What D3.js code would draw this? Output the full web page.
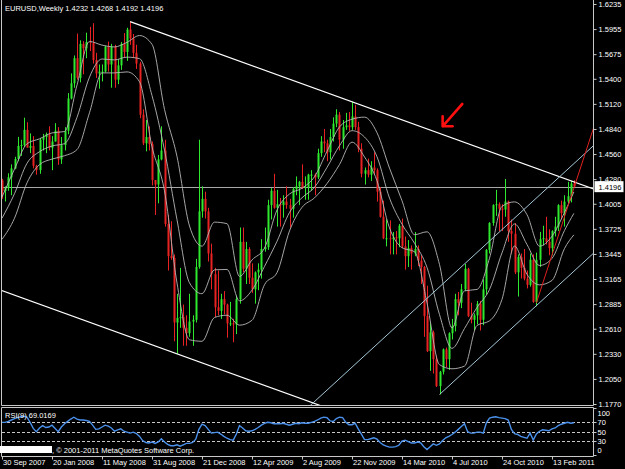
<!DOCTYPE html>
<html>
<head>
<meta charset="utf-8">
<script src="https://cdn.jsdelivr.net/npm/d3@7"></script>
<style>
body { margin: 0; background: #000; }
svg { display: block; }
text { font-family: "Liberation Sans", Arial, sans-serif; font-size: 7.5px; fill: #fff; }
</style>
</head>
<body>
<svg width="625" height="469"></svg>
<script>
// EURUSD weekly, week 0 = 30 Sep 2007
var opens = [1.4265,1.4150,1.4180,1.4300,1.4400,1.4505,1.4650,1.4660,1.4830,1.4630,1.4650,1.4430,1.4380,1.4720,1.4750,1.4780,1.4630,1.4700,1.4820,1.4500,
1.4660,1.4820,1.5180,1.5350,1.5630,1.5410,1.5790,1.5740,1.5810,1.5800,1.5610,1.5460,1.5480,1.5480,1.5760,1.5560,1.5760,1.5390,1.5550,1.5790,
1.5700,1.5950,1.5850,1.5690,1.5570,1.5000,1.4680,1.4750,1.4670,1.4270,1.4220,1.4500,1.4600,1.3780,1.3420,1.3400,1.2680,1.2730,1.2740,1.2620,
1.2560,1.2690,1.2710,1.3300,1.3920,1.4060,1.3920,1.3450,1.3220,1.2850,1.2810,1.2940,1.2880,1.2670,1.2670,1.2660,1.2940,1.3580,1.3280,1.3500,
1.3180,1.3050,1.3240,1.3270,1.3500,1.3520,1.3990,1.4150,1.3960,1.4000,1.3990,1.4030,1.3990,1.3950,1.4170,1.4200,1.4250,1.4180,1.4190,1.4330,
1.4330,1.4300,1.4570,1.4700,1.4680,1.4580,1.4750,1.4900,1.5000,1.4720,1.4860,1.4880,1.4860,1.4980,1.4860,1.4620,1.4340,1.4380,1.4330,1.4410,
1.4380,1.4140,1.3860,1.3620,1.3620,1.3610,1.3630,1.3620,1.3760,1.3530,1.3420,1.3510,1.3450,1.3500,1.3370,1.3300,1.2750,1.2360,1.2570,1.2270,
1.1970,1.2130,1.2380,1.2270,1.2560,1.2640,1.2940,1.2900,1.3050,1.3280,1.2750,1.2710,1.2760,1.2890,1.2710,1.3050,1.3490,1.3790,1.3990,1.4000,
1.3950,1.3940,1.4030,1.3700,1.3670,1.3240,1.3410,1.3290,1.3170,1.3100,1.3380,1.2910,1.3380,1.3610,1.3620,1.3580,1.3510,1.3700,1.3750,1.3990,
1.3900,1.4030,1.4090,1.4232];
var highs = [1.4283,1.4200,1.4345,1.4445,1.4530,1.4752,1.4720,1.4966,1.4915,1.4790,1.4760,1.4440,1.4740,1.4785,1.4800,1.4870,1.4760,1.4905,1.4860,1.4750,
1.4860,1.5240,1.5460,1.5660,1.5905,1.5830,1.5820,1.5915,1.5980,1.6020,1.5690,1.5560,1.5560,1.5770,1.5815,1.5790,1.5780,1.5620,1.5810,1.5910,
1.5970,1.6038,1.5900,1.5780,1.5590,1.5060,1.4940,1.4870,1.4700,1.4270,1.4550,1.4870,1.4720,1.3880,1.3810,1.3440,1.3000,1.3290,1.2880,1.2760,
1.3000,1.2760,1.3390,1.4720,1.4200,1.4140,1.3960,1.3560,1.3290,1.3260,1.3000,1.3030,1.2890,1.2910,1.2720,1.2980,1.3740,1.3740,1.3580,1.3520,
1.3340,1.3250,1.3340,1.3610,1.3740,1.4050,1.4180,1.4340,1.4160,1.4070,1.4100,1.4200,1.4060,1.4190,1.4310,1.4260,1.4445,1.4310,1.4340,1.4380,
1.4345,1.4620,1.4760,1.4840,1.4720,1.4840,1.4970,1.5060,1.5030,1.4940,1.5020,1.5030,1.5144,1.5110,1.4920,1.4680,1.4410,1.4510,1.4480,1.4580,
1.4400,1.4190,1.4040,1.3830,1.3820,1.3690,1.3700,1.3780,1.3840,1.3640,1.3600,1.3540,1.3690,1.3540,1.3430,1.3310,1.3090,1.2670,1.2590,1.2310,
1.2140,1.2390,1.2400,1.2570,1.2720,1.3000,1.3020,1.3110,1.3333,1.3290,1.2900,1.2780,1.2920,1.2920,1.3160,1.3500,1.3800,1.4000,1.4160,1.4020,
1.4000,1.4282,1.4040,1.3830,1.3790,1.3440,1.3450,1.3500,1.3260,1.3450,1.3440,1.3460,1.3690,1.3760,1.3860,1.3720,1.3710,1.3860,1.4000,1.4040,
1.4100,1.4250,1.4260,1.4268];
var lows = [1.4060,1.4030,1.4150,1.4100,1.4390,1.4480,1.4540,1.4640,1.4645,1.4570,1.4400,1.4330,1.4340,1.4600,1.4570,1.4600,1.4380,1.4700,1.4440,1.4450,
1.4600,1.4780,1.5170,1.5300,1.5390,1.5360,1.5450,1.5630,1.5710,1.5570,1.5410,1.5290,1.5370,1.5470,1.5480,1.5300,1.5300,1.5340,1.5500,1.5640,
1.5600,1.5780,1.5630,1.5510,1.4960,1.4660,1.4590,1.4600,1.4210,1.3880,1.4010,1.4490,1.3750,1.3260,1.3380,1.2470,1.2330,1.2620,1.2420,1.2420,
1.2520,1.2420,1.2680,1.3280,1.3850,1.3840,1.3360,1.3050,1.2740,1.2760,1.2720,1.2770,1.2510,1.2640,1.2460,1.2550,1.2890,1.3240,1.3110,1.3110,
1.3010,1.2890,1.3040,1.3170,1.3470,1.3490,1.3830,1.3950,1.3750,1.3750,1.3850,1.3950,1.3740,1.3850,1.4100,1.3990,1.4170,1.4050,1.4050,1.4150,
1.4100,1.4280,1.4530,1.4580,1.4480,1.4500,1.4700,1.4860,1.4600,1.4620,1.4830,1.4820,1.4830,1.4830,1.4580,1.4300,1.4220,1.4300,1.4260,1.4330,
1.4030,1.3850,1.3610,1.3530,1.3440,1.3440,1.3440,1.3520,1.3510,1.3270,1.3300,1.3270,1.3420,1.3310,1.3110,1.2520,1.2350,1.2140,1.2110,1.1960,
1.1876,1.2100,1.2180,1.2150,1.2490,1.2580,1.2760,1.2840,1.3030,1.2740,1.2670,1.2590,1.2660,1.2590,1.2650,1.2990,1.3450,1.3760,1.3870,1.3700,
1.3700,1.3860,1.3580,1.3450,1.3220,1.2970,1.3170,1.3150,1.3060,1.3080,1.2900,1.2860,1.3300,1.3540,1.3550,1.3430,1.3430,1.3640,1.3700,1.3830,
1.3750,1.4010,1.4020,1.4192];
var closes = [1.4150,1.4180,1.4300,1.4400,1.4505,1.4650,1.4660,1.4830,1.4630,1.4650,1.4430,1.4380,1.4720,1.4750,1.4780,1.4630,1.4700,1.4820,1.4500,1.4660,
1.4820,1.5180,1.5350,1.5630,1.5410,1.5790,1.5740,1.5810,1.5800,1.5610,1.5460,1.5480,1.5480,1.5760,1.5560,1.5760,1.5390,1.5550,1.5790,1.5700,
1.5950,1.5850,1.5690,1.5570,1.5000,1.4680,1.4750,1.4670,1.4270,1.4220,1.4500,1.4600,1.3780,1.3420,1.3400,1.2680,1.2730,1.2740,1.2620,1.2560,
1.2690,1.2710,1.3300,1.3920,1.4060,1.3920,1.3450,1.3220,1.2850,1.2810,1.2940,1.2880,1.2670,1.2670,1.2660,1.2940,1.3580,1.3280,1.3500,1.3180,
1.3050,1.3240,1.3270,1.3500,1.3520,1.3990,1.4150,1.3960,1.4000,1.3990,1.4030,1.3990,1.3950,1.4170,1.4200,1.4250,1.4180,1.4190,1.4330,1.4330,
1.4300,1.4570,1.4700,1.4680,1.4580,1.4750,1.4900,1.5000,1.4720,1.4860,1.4880,1.4860,1.4980,1.4860,1.4620,1.4340,1.4380,1.4330,1.4410,1.4380,
1.4140,1.3860,1.3620,1.3620,1.3610,1.3630,1.3620,1.3760,1.3530,1.3420,1.3510,1.3450,1.3500,1.3370,1.3300,1.2750,1.2360,1.2570,1.2270,1.1970,
1.2130,1.2380,1.2270,1.2560,1.2640,1.2940,1.2900,1.3050,1.3280,1.2750,1.2710,1.2760,1.2890,1.2710,1.3050,1.3490,1.3790,1.3990,1.4000,1.3950,
1.3940,1.4030,1.3700,1.3670,1.3240,1.3410,1.3290,1.3170,1.3100,1.3380,1.2910,1.3380,1.3610,1.3620,1.3580,1.3510,1.3700,1.3750,1.3990,1.3900,
1.4030,1.4090,1.4230,1.4196];

// Bollinger band lines, read every 4th week
var bandWeeks = [0,4,8,12,16,20,24,28,32,36,40,44,48,52,56,60,64,68,72,76,80,84,88,92,96,100,104,108,112,116,120,124,128,132,136,140,144,148,152,156,160,164,168,172,176,180,183];
var bandUpper = [1.4080,1.4392,1.4675,1.4730,1.4796,1.4811,1.5330,1.5817,1.5776,1.5756,1.5807,1.5883,1.5785,1.5059,1.4533,1.3757,1.3532,1.3800,1.3783,1.3194,
1.3378,1.3510,1.3936,1.4114,1.4179,1.4307,1.4591,1.4863,1.4949,1.4972,1.4798,1.4403,1.4039,1.3660,1.3692,1.3327,1.2619,1.3033,1.3049,1.3398,
1.3976,1.4026,1.3883,1.3532,1.3643,1.3908,1.4138];
var bandMiddle = [1.3844,1.4118,1.4457,1.4586,1.4650,1.4676,1.4970,1.5419,1.5621,1.5611,1.5642,1.5625,1.5213,1.4604,1.3827,1.3122,1.3001,1.3268,1.3272,1.2922,
1.3041,1.3306,1.3586,1.3908,1.4072,1.4189,1.4411,1.4653,1.4821,1.4750,1.4530,1.4069,1.3777,1.3565,1.3295,1.2768,1.2391,1.2613,1.2848,1.3048,
1.3457,1.3780,1.3550,1.3316,1.3396,1.3707,1.3898];
var bandLower = [1.3608,1.3844,1.4239,1.4442,1.4504,1.4541,1.4610,1.5021,1.5466,1.5466,1.5477,1.5367,1.4641,1.4149,1.3121,1.2487,1.2470,1.2736,1.2761,1.2650,
1.2704,1.3102,1.3236,1.3702,1.3965,1.4071,1.4231,1.4443,1.4693,1.4528,1.4262,1.3735,1.3515,1.3470,1.2898,1.2209,1.2163,1.2193,1.2647,1.2698,
1.2938,1.3534,1.3217,1.3100,1.3149,1.3506,1.3658];

// RSI values per week
var rsiValues = [70,70,72,75,78,80,82,83,81,70,57,50,58,63,59,60,64,57,50,60,
67,72,77,81,77,75,75,74,72,64,55,56,60,64,62,58,51,54,56,51,
49,47,49,46,40,31,27,26,28,25,28,35,28,23,20,20,22,19,22,25,
25,27,34,55,66,63,55,47,48,49,45,40,36,33,32,45,63,58,52,51,
52,55,59,64,68,70,69,67,67,67,68,66,64,66,68,67,69,68,68,70,
72,75,79,81,80,73,72,78,81,80,70,65,65,68,56,45,33,33,35,37,
34,27,22,19,17,17,18,21,30,32,29,26,26,28,26,18,12,18,24,21,
24,31,37,40,44,49,55,61,67,50,47,47,49,49,47,69,79,81,82,80,
79,78,75,55,46,44,40,38,36,47,32,45,51,54,53,52,56,58,63,66,
68,70,68,69];

var priceTicks = [1.6235,1.5955,1.5675,1.5400,1.5120,1.4840,1.4560,1.4280,1.4005,1.3725,1.3445,1.3165,1.2885,1.2610,1.2330,1.2050,1.1770];
var rsiTicks = [100,70,50,30,0];
var rsiLevels = [70,50,30];
var dateTickWeeks = [0,16,32,48,64,80,96,112,128,144,160,176];
var dateTickLabels = ["30 Sep 2007","20 Jan 2008","11 May 2008","31 Aug 2008","21 Dec 2008","12 Apr 2009","2 Aug 2009","22 Nov 2009","14 Mar 2010","4 Jul 2010","24 Oct 2010","13 Feb 2011"];

// drawn objects: [week, price] anchors
var resistanceLine = [[41,1.6038],[112,1.5144]];
var supportLine = [[0,1.3035],[56,1.2330]];
var channelLow = [[140,1.1876],[170,1.2836]];
var channelHigh = [[148,1.3333],[178,1.4293]];
var fastLine = [[171,1.2900],[183,1.4180]];
var arrowAnchor = [[147.3,1.512],[141,1.487]];
var lastPrice = 1.4196;
var titleText = "EURUSD,Weekly  1.4232 1.4268 1.4192 1.4196";
var rsiTitle = "RSI(9) 69.0169";

var plotL = 2, plotR = 593.5, mainTop = 1, mainBot = 405.5, rsiTop = 407.5, rsiBot = 456.5;

var svg = d3.select("svg");

var x = d3.scaleLinear().domain([0, 183]).range([2, 2 + 183 * 3.125]);
var y = d3.scaleLinear().domain([1.1770, 1.6235]).range([404, 4]);
var yRsi = d3.scaleLinear().domain([0, 100]).range([455.1, 408.3]);

svg.append("defs").append("clipPath").attr("id", "mainClip")
    .append("rect").attr("x", plotL).attr("y", mainTop)
    .attr("width", plotR - plotL).attr("height", mainBot - mainTop);
svg.select("defs").append("clipPath").attr("id", "rsiClip")
    .append("rect").attr("x", plotL).attr("y", rsiTop)
    .attr("width", plotR - plotL).attr("height", rsiBot - rsiTop);

var main = svg.append("g").attr("clip-path", "url(#mainClip)");

// current price line
main.append("line")
    .attr("x1", plotL).attr("x2", plotR)
    .attr("y1", Math.round(y(lastPrice)) + 0.5).attr("y2", Math.round(y(lastPrice)) + 0.5)
    .attr("stroke", "#a8a8a8").attr("stroke-width", 1);

// candles
var weeks = d3.range(closes.length);
var candle = main.append("g").selectAll("g").data(weeks).enter().append("g");

candle.append("line")
    .attr("x1", function(i) { return Math.round(x(i)) + 0.5; })
    .attr("x2", function(i) { return Math.round(x(i)) + 0.5; })
    .attr("y1", function(i) { return y(highs[i]); })
    .attr("y2", function(i) { return y(lows[i]); })
    .attr("stroke", function(i) { return closes[i] >= opens[i] ? "#2ee82e" : "#e82222"; })
    .attr("stroke-width", 1);

candle.append("rect")
    .attr("x", function(i) { return Math.round(x(i)) - 0.5; })
    .attr("width", 2)
    .attr("y", function(i) { return y(Math.max(opens[i], closes[i])); })
    .attr("height", function(i) { return Math.max(1, Math.abs(y(opens[i]) - y(closes[i]))); })
    .attr("fill", function(i) { return closes[i] >= opens[i] ? "#2ee82e" : "#e82222"; });

// bands
var bandLine = d3.line()
    .x(function(d) { return x(d[0]); })
    .y(function(d) { return y(d[1]); })
    .curve(d3.curveMonotoneX);

[bandUpper, bandMiddle, bandLower].forEach(function(arr) {
    main.append("path")
        .datum(bandWeeks.map(function(w, k) { return [w, arr[k]]; }))
        .attr("d", bandLine)
        .attr("fill", "none")
        .attr("stroke", "#b8b8b8")
        .attr("stroke-width", 0.9);
});

// trend lines: extend anchors in week space
function trendPath(pts, fromWeek, toWeek) {
    var slope = (pts[1][1] - pts[0][1]) / (pts[1][0] - pts[0][0]);
    var p = function(w) { return pts[0][1] + slope * (w - pts[0][0]); };
    return [[x(fromWeek), y(p(fromWeek))], [x(toWeek), y(p(toWeek))]];
}

function drawTrend(pts, fromWeek, color, width) {
    var seg = trendPath(pts, fromWeek, 200);
    main.append("line")
        .attr("x1", seg[0][0]).attr("y1", seg[0][1])
        .attr("x2", seg[1][0]).attr("y2", seg[1][1])
        .attr("stroke", color).attr("stroke-width", width);
}

drawTrend(resistanceLine, resistanceLine[0][0], "#ffffff", 1.2);
drawTrend(supportLine, -2, "#ffffff", 1.2);
drawTrend(channelLow, channelLow[0][0], "#a4c6d6", 1);
drawTrend(channelHigh, 90, "#a4c6d6", 1);
drawTrend(fastLine, fastLine[0][0], "#e02020", 1);

// red arrow
var tail = [x(arrowAnchor[0][0]), y(arrowAnchor[0][1])];
var tip = [x(arrowAnchor[1][0]), y(arrowAnchor[1][1])];
main.append("path")
    .attr("d", "M" + tail[0] + "," + tail[1] + "L" + tip[0] + "," + tip[1] +
        "M" + (tip[0] + 10) + "," + tip[1] + "L" + tip[0] + "," + tip[1] + "L" + tip[0] + "," + (tip[1] - 10))
    .attr("fill", "none").attr("stroke", "#ff1010").attr("stroke-width", 2.6)
    .attr("stroke-linecap", "round").attr("stroke-linejoin", "round");

// frames
var frame = svg.append("g").attr("stroke", "#c8c8c8").attr("stroke-width", 1).attr("fill", "none");
frame.append("path").attr("d", "M1.5,0V" + mainBot + "H" + plotR + "V0");
frame.append("path").attr("d", "M1.5," + rsiTop + "H" + plotR + "V" + rsiBot + "H1.5Z");

// price axis
var yAxis = d3.axisRight(y).tickValues(priceTicks).tickFormat(d3.format(".4f")).tickSize(3).tickPadding(2);
var gy = svg.append("g").attr("transform", "translate(" + plotR + ",0)").call(yAxis);
gy.select(".domain").remove();
gy.selectAll(".tick line").attr("stroke", "#c8c8c8");
gy.selectAll(".tick text").attr("fill", "#fff").style("font-size", "7.5px").style("font-family", "Liberation Sans, Arial, sans-serif");

// last price box
var lp = y(lastPrice);
svg.append("rect").attr("x", plotR + 1).attr("y", lp - 5.5).attr("width", 29).attr("height", 11)
    .attr("fill", "#fff");
svg.append("text").attr("x", plotR + 5).attr("y", lp + 3).style("fill", "#000")
    .text(d3.format(".4f")(lastPrice));

// title
svg.append("text").attr("x", 5).attr("y", 11).text(titleText);

// RSI window
var rsiG = svg.append("g").attr("clip-path", "url(#rsiClip)");
rsiG.selectAll("line.lvl").data(rsiLevels).enter().append("line")
    .attr("class", "lvl")
    .attr("x1", plotL).attr("x2", plotR)
    .attr("y1", function(d) { return Math.round(yRsi(d)) + 0.5; })
    .attr("y2", function(d) { return Math.round(yRsi(d)) + 0.5; })
    .attr("stroke", "#c8c8c8").attr("stroke-dasharray", "3,2");

rsiG.append("path")
    .datum(rsiValues)
    .attr("d", d3.line().x(function(d, i) { return x(i); }).y(function(d) { return yRsi(d); }))
    .attr("fill", "none").attr("stroke", "#4a90ea").attr("stroke-width", 1.4);

svg.append("text").attr("x", 5).attr("y", 418).text(rsiTitle);

svg.selectAll("text.rsiTick").data(rsiTicks).enter().append("text")
    .attr("class", "rsiTick")
    .attr("x", plotR + 4)
    .attr("y", function(d) {
        var yy = yRsi(d) + 3;
        if (d === 100) yy += 5;
        if (d === 0) yy -= 5;
        return yy;
    })
    .text(function(d) { return d; });
svg.selectAll("line.rsiTickLine").data(rsiTicks).enter().append("line")
    .attr("class", "rsiTickLine")
    .attr("x1", plotR).attr("x2", plotR + 3)
    .attr("y1", function(d) { return Math.round(yRsi(d)) + 0.5; })
    .attr("y2", function(d) { return Math.round(yRsi(d)) + 0.5; })
    .attr("stroke", "#c8c8c8");

// copyright strip
svg.append("rect").attr("x", 0).attr("y", 446).attr("width", 52).attr("height", 7).attr("fill", "#fff");
svg.append("text").attr("x", 52).attr("y", 452.5).text(", \u00a9 2001-2011 MetaQuotes Software Corp.");

// date axis
var dates = svg.append("g");
dates.selectAll("line").data(dateTickWeeks).enter().append("line")
    .attr("x1", function(w) { return Math.round(x(w)) + 0.5; })
    .attr("x2", function(w) { return Math.round(x(w)) + 0.5; })
    .attr("y1", rsiBot).attr("y2", rsiBot + 3)
    .attr("stroke", "#c8c8c8");
dates.selectAll("text").data(dateTickWeeks).enter().append("text")
    .attr("x", function(w) { return x(w) + 1; })
    .attr("y", 465)
    .text(function(w, k) { return dateTickLabels[k]; });
</script>
</body>
</html>
